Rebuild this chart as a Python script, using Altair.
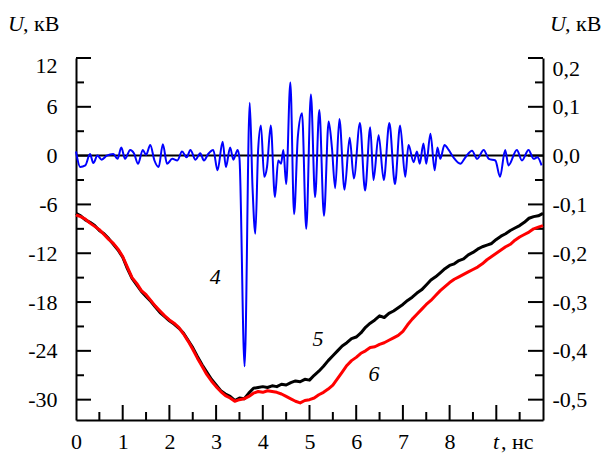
import altair as alt
import pandas as pd

FONT = "Liberation Serif"

# ---- data ----
t_grid = [i / 10 for i in range(101)]  # ns

v_black5 = [
    -7.1, -7.4, -7.9, -8.2, -8.6, -9.2, -9.6, -10.2, -10.9, -11.6,
    -12.5, -13.9, -15.1, -15.9, -16.7, -17.3, -17.9, -18.6, -19.3, -19.8,
    -20.3, -20.7, -21.2, -21.8, -22.7, -23.6, -24.7, -25.7, -26.6, -27.5,
    -28.2, -28.9, -29.3, -29.6, -30.1, -29.8, -29.9, -29.2, -28.6, -28.5,
    -28.4, -28.5, -28.3, -28.4, -28.1, -28.2, -27.9, -27.7, -27.8, -27.5,
    -27.6, -27.0, -26.5, -25.9, -25.2, -24.6, -24.0, -23.4, -23.0, -22.5,
    -22.3, -21.8, -21.1, -20.6, -20.2, -19.7, -19.9, -19.4, -19.1, -18.7,
    -18.3, -17.8, -17.4, -16.9, -16.5, -15.9, -15.3, -14.9, -14.4, -13.9,
    -13.5, -13.3, -12.9, -12.7, -12.2, -11.9, -11.5, -11.2, -11.0, -10.8,
    -10.3, -9.9, -9.6, -9.2, -8.9, -8.6, -8.2, -7.7, -7.5, -7.4,
    -7.1,
]

v_red6 = [
    -7.3, -7.5, -7.8, -8.3, -8.7, -9.1, -9.7, -10.3, -10.8, -11.5,
    -12.4, -13.7, -15.0, -15.7, -16.6, -17.1, -17.8, -18.5, -19.1, -19.7,
    -20.2, -20.6, -21.1, -21.9, -22.8, -23.8, -24.9, -25.9, -26.9, -27.7,
    -28.4, -29.0, -29.5, -29.8, -30.2, -30.0, -29.9, -29.6, -29.2, -29.0,
    -29.1, -28.9, -29.0, -29.1, -29.3, -29.6, -29.9, -30.2, -30.4, -30.1,
    -30.0, -29.8, -29.4, -29.1, -28.7, -28.2, -27.4, -26.6, -25.8, -25.2,
    -24.8, -24.3, -24.0, -23.6, -23.5, -23.2, -23.0, -22.7, -22.4, -22.1,
    -21.6, -20.8, -20.1, -19.5, -18.9, -18.3, -17.8, -17.2, -16.6, -16.1,
    -15.6, -15.2, -14.9, -14.6, -14.3, -14.0, -13.7, -13.3, -12.8, -12.4,
    -12.0, -11.6, -11.2, -10.9, -10.4, -10.0, -9.7, -9.4, -9.0, -8.8,
    -8.6,
]

t_blue4 = [
    0, 0.09, 0.2, 0.3, 0.37, 0.46, 0.55, 0.66, 0.8, 0.89,
    0.97, 1.05, 1.16, 1.24, 1.33, 1.43, 1.5, 1.59, 1.68, 1.77,
    1.86, 1.95, 2.06, 2.17, 2.27, 2.37, 2.45, 2.56, 2.66, 2.74,
    2.83, 2.94, 3.03, 3.14, 3.21, 3.3, 3.37, 3.46, 3.5, 3.61,
    3.72, 3.78, 3.84, 3.9, 3.96, 4.03, 4.09, 4.17, 4.26, 4.33,
    4.39, 4.44, 4.5, 4.59, 4.67, 4.75, 4.84, 4.93, 5.03, 5.12,
    5.21, 5.31, 5.41, 5.48, 5.55, 5.64, 5.75, 5.86, 5.95, 6.08,
    6.19, 6.3, 6.37, 6.48, 6.59, 6.71, 6.83, 6.94, 7.05, 7.12,
    7.23, 7.3, 7.36, 7.44, 7.5, 7.59, 7.68, 7.74, 7.8, 7.89,
    7.98, 8.08, 8.23, 8.34, 8.48, 8.59, 8.73, 8.84, 8.98, 9.08,
    9.19, 9.26, 9.44, 9.55, 9.69, 9.8, 9.88, 9.97,
]
v_blue4 = [
    0.5, -1.4, -1.2, 0.2, -0.9, 0.0, -0.5, 0.0, 0.2, -0.4,
    1.0, -0.4, 0.7, 0.3, -1.0, 0.7, 0.1, 1.3, -0.6, -1.4,
    1.4, -1.0, -0.4, -0.6, 0.5, -0.2, 0.7, -0.5, 0.3, -0.6,
    0.2, 0.7, -1.8, 1.7, -1.4, 1.0, -0.5, 0.7, -0.3, -25.9,
    6.5, -3.9, -9.6, 0.7, 3.7, -2.6, -1.4, 3.7, -5.1, -0.6,
    -1.0, 0.7, -3.5, 9.0, -7.2, 2.3, 5.2, -9.0, 7.5, -5.1,
    5.6, -7.4, 4.2, 1.0, -4.0, 4.5, -4.2, 2.2, -2.8, 4.0,
    -4.3, 3.5, -3.0, 2.5, -3.0, 4.0, -3.5, 3.7, -2.6, 1.3,
    -0.8, 0.5, -1.0, 1.5, -1.0, 2.7, -1.8, 1.0, -0.4, 1.3,
    0.7, -0.2, -1.0, -0.2, 0.6, -0.4, 0.7, -0.4, -0.6, -2.6,
    0.7, -1.2, 0.7, -0.6, 0.7, -0.4, -0.2, -1.2,
]

label_names = ["4", "5", "6"]
label_t = [2.98, 5.18, 6.38]
label_v = [-14.9, -22.6, -26.9]

zero_level = [0]

x_label_values = [0, 1, 2, 3, 4, 5, 6, 7, 8]
x_major = [1, 2, 3, 4, 5, 6, 7, 8, 9]
x_minor = [0.5, 1.5, 2.5, 3.5, 4.5, 5.5, 6.5, 7.5, 8.5, 9.5]
y_major = [-30, -24, -18, -12, -6, 0, 6, 12]
y_minor = [-27, -21, -15, -9, -3, 3, 9]

X_DOMAIN = [0, 10]
Y_DOMAIN = [-32.5, 12]

# ---- sizes (pixels) ----
W, H = 467, 362
MAJ, MIN = 15, 8
PX_T = W / (X_DOMAIN[1] - X_DOMAIN[0])   # pixels per ns
PX_V = H / (Y_DOMAIN[1] - Y_DOMAIN[0])   # pixels per kV

# ---- tables ----
df5 = pd.DataFrame({"t": t_grid, "v": v_black5})
df6 = pd.DataFrame({"t": t_grid, "v": v_red6})
df4 = pd.DataFrame({"t": t_blue4, "v": v_blue4})
df_lab = pd.DataFrame({"t": label_t, "v": label_v, "name": label_names})
df_zero = pd.DataFrame({"v": zero_level})
one_row = alt.InlineData(values=[{}])

# inward tick segments (two end points each), built from the tick arrays
rows = []
for vals, length in ((y_major, MAJ), (y_minor, MIN)):
    dt = length / PX_T
    for v in vals:
        rows += [{"id": f"L{v}", "t": X_DOMAIN[0], "v": v}, {"id": f"L{v}", "t": X_DOMAIN[0] + dt, "v": v}]
        rows += [{"id": f"R{v}", "t": X_DOMAIN[1], "v": v}, {"id": f"R{v}", "t": X_DOMAIN[1] - dt, "v": v}]
for vals, length in ((x_major, MAJ), (x_minor, MIN)):
    dv = length / PX_V
    for t in vals:
        rows += [{"id": f"B{t}", "t": t, "v": Y_DOMAIN[0]}, {"id": f"B{t}", "t": t, "v": Y_DOMAIN[0] + dv}]
df_ticks = pd.DataFrame(rows)

xs = alt.Scale(domain=X_DOMAIN, nice=False, zero=False)
ys = alt.Scale(domain=Y_DOMAIN, nice=False, zero=False)

common = dict(labelFont=FONT, labelFontSize=22, labelColor="black", title=None,
              domainColor="black", domainWidth=2, labelOverlap=False,
              ticks=False, grid=False, domain=True)

ax_x = alt.Axis(orient="bottom", values=x_label_values, labelPadding=11,
                labelFlush=False, **common)
ax_y_left = alt.Axis(orient="left", values=y_major,
                     labelExpr="datum.value < 0 ? '-' + format(-datum.value, 'd') : format(datum.value, 'd')",
                     labelPadding=19, labelFlush=True, labelFlushOffset=3, **common)
ax_y_right = alt.Axis(orient="right", values=y_major,
                      labelExpr="datum.value < 0 ? '-' + replace(format(-datum.value/60, '.1f'), '.', ',') : replace(format(datum.value/60, '.1f'), '.', ',')",
                      labelPadding=9, labelFlush=True, **common)

black = alt.Chart(df5).mark_line(color="black", strokeWidth=3, strokeJoin="round").encode(
    x=alt.X("t:Q", scale=xs, axis=ax_x),
    y=alt.Y("v:Q", scale=ys, axis=ax_y_left),
)
right = alt.Chart(df5).mark_line(opacity=0).encode(
    x=alt.X("t:Q", scale=xs, axis=None),
    y=alt.Y("v:Q", scale=ys, axis=ax_y_right),
)
ticks = alt.Chart(df_ticks).mark_line(color="black", strokeWidth=2).encode(
    x=alt.X("t:Q", scale=xs, axis=None),
    y=alt.Y("v:Q", scale=ys, axis=None),
    detail="id:N",
)
red = alt.Chart(df6).mark_line(color="#ff0000", strokeWidth=3, strokeJoin="round").encode(
    x=alt.X("t:Q", scale=xs, axis=None),
    y=alt.Y("v:Q", scale=ys, axis=None),
)
zero = alt.Chart(df_zero).mark_rule(color="black", strokeWidth=2).encode(
    y=alt.Y("v:Q", scale=ys, axis=None),
)
blue = alt.Chart(df4).mark_line(color="#0000ff", strokeWidth=2, strokeJoin="round",
                                interpolate="monotone").encode(
    x=alt.X("t:Q", scale=xs, axis=None),
    y=alt.Y("v:Q", scale=ys, axis=None),
)
labels = alt.Chart(df_lab).mark_text(font=FONT, fontSize=22, fontStyle="italic", color="black").encode(
    x=alt.X("t:Q", scale=xs, axis=None),
    y=alt.Y("v:Q", scale=ys, axis=None),
    text="name:N",
)


def txt(s, x, y, italic=False):
    return alt.Chart(one_row).mark_text(
        text=s, font=FONT, fontSize=22, color="black", align="left",
        baseline="alphabetic", fontStyle="italic" if italic else "normal",
    ).encode(x=alt.value(x), y=alt.value(y))


texts = [
    txt("U", -68, -27, True), txt(", кВ", -53, -27),
    txt("U", 474, -27, True), txt(", кВ", 489, -27),
    txt("t", 417, 391, True), txt(", нс", 425, 391),
]

chart = alt.layer(black, right, ticks, red, zero, blue, labels, *texts).resolve_axis(
    x="independent", y="independent"
).properties(
    width=W, height=H,
    autosize=alt.AutoSizeParams(type="none"),
    padding={"left": 76, "top": 58, "right": 69, "bottom": 35},
    background="white",
).configure_view(strokeWidth=0)

chart.save("out.html", embed_options={"renderer": "svg", "actions": False})
